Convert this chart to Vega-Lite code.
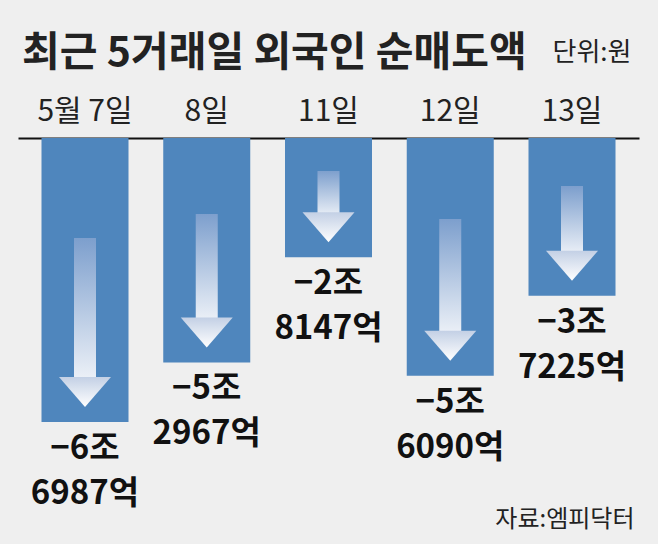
{
  "$schema": "https://vega.github.io/schema/vega-lite/v6.json",
  "width": 621,
  "height": 406,
  "autosize": {"type": "none"},
  "padding": {"left": 18, "top": 138, "right": 19, "bottom": 0},
  "background": "#efefef",
  "title": {
    "text": "최근 5거래일 외국인 순매도액",
    "anchor": "start",
    "font": "Noto Sans CJK KR",
    "fontSize": 41,
    "fontWeight": "bold",
    "color": "#222222",
    "dx": 4,
    "dy": 40
  },
  "data": {
    "values": [
      {"date": "5월 7일", "value": -66987, "label": "−6조\n6987억"},
      {"date": "8일", "value": -52967, "label": "−5조\n2967억"},
      {"date": "11일", "value": -28147, "label": "−2조\n8147억"},
      {"date": "12일", "value": -56090, "label": "−5조\n6090억"},
      {"date": "13일", "value": -37225, "label": "−3조\n7225억"}
    ]
  },
  "encoding": {
    "x": {
      "field": "date",
      "type": "nominal",
      "sort": null,
      "scale": {"paddingInner": 0.2854, "paddingOuter": 0.193},
      "axis": {
        "orient": "top",
        "title": "단위:원",
        "titleX": 613,
        "titleY": -78,
        "titleAlign": "right",
        "titleBaseline": "alphabetic",
        "titleAngle": 0,
        "titleFont": "Noto Sans CJK KR",
        "titleFontSize": 26,
        "titleFontWeight": "normal",
        "titleColor": "#222222",
        "labelAngle": 0,
        "labelFont": "Noto Sans CJK KR",
        "labelFontSize": 30,
        "labelColor": "#222222",
        "labelPadding": 12,
        "ticks": false,
        "domainColor": "#111111",
        "domainWidth": 2
      }
    },
    "y": {
      "field": "value",
      "type": "quantitative",
      "scale": {"domain": [-95800, 0], "nice": false, "zero": false},
      "axis": {
        "labels": false,
        "ticks": false,
        "domain": false,
        "grid": false,
        "title": "자료:엠피닥터",
        "titleAngle": 0,
        "titleX": 616,
        "titleY": 388,
        "titleAlign": "right",
        "titleBaseline": "alphabetic",
        "titleFont": "Noto Sans CJK KR",
        "titleFontSize": 24,
        "titleFontWeight": "normal",
        "titleColor": "#222222"
      }
    }
  },
  "layer": [
    {
      "mark": {"type": "bar", "color": "#4f86bd"}
    },
    {
      "mark": {
        "type": "bar",
        "width": 22,
        "yOffset": -40,
        "color": {
          "gradient": "linear",
          "x1": 0, "y1": 0, "x2": 0, "y2": 1,
          "stops": [
            {"offset": 0, "color": "rgba(255,255,255,0)"},
            {"offset": 0.41, "color": "rgba(255,255,255,0)"},
            {"offset": 0.411, "color": "#7d9fcd"},
            {"offset": 1, "color": "#eef2f8"}
          ]
        }
      },
      "encoding": {"y2": {"datum": 0}}
    },
    {
      "mark": {
        "type": "point",
        "shape": "M-1,-0.577L1,-0.577L0,0.577Z",
        "size": 2704,
        "filled": true,
        "opacity": 1,
        "strokeWidth": 0,
        "yOffset": -30,
        "fill": {
          "gradient": "linear",
          "x1": 0, "y1": 0, "x2": 0, "y2": 1,
          "stops": [
            {"offset": 0, "color": "#c3d0e5"},
            {"offset": 1, "color": "#ffffff"}
          ]
        }
      }
    },
    {
      "mark": {
        "type": "text",
        "baseline": "top",
        "align": "center",
        "dy": 11,
        "lineBreak": "\n",
        "lineHeight": 45,
        "font": "Noto Sans CJK KR",
        "fontSize": 33,
        "fontWeight": "bold",
        "color": "#111111"
      },
      "encoding": {"text": {"field": "label"}}
    }
  ],
  "config": {
    "view": {"stroke": null},
    "axis": {"grid": false}
  }
}
